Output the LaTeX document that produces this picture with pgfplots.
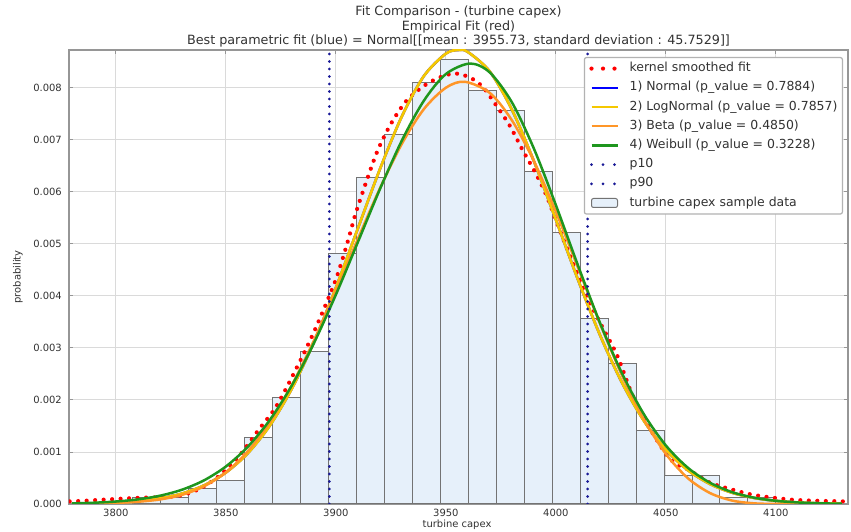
\documentclass[border=0pt]{standalone}
\usepackage{fontspec}
\setmainfont{DejaVu Sans}
\usepackage{pgfplots}
\pgfplotsset{compat=1.18}
\definecolor{histfill}{RGB}{230,240,250}
\definecolor{histedge}{RGB}{115,115,115}
\definecolor{nblue}{RGB}{0,0,255}
\definecolor{lnyellow}{RGB}{245,200,0}
\definecolor{betaorange}{RGB}{255,150,40}
\definecolor{wgreen}{RGB}{30,150,30}
\definecolor{pnavy}{RGB}{25,25,150}
\definecolor{kred}{RGB}{255,0,0}
\definecolor{gridgray}{RGB}{218,218,218}
\definecolor{framegray}{RGB}{150,150,150}
\definecolor{txt}{RGB}{50,50,50}
\pgfplotsset{
  leglinestyle/.style={legend image code/.code={\draw[##1] (0bp,0bp) -- (26bp,0bp);}},
  legrectstyle/.style={legend image code/.code={\draw[##1] (0bp,-4.5bp) rectangle (26bp,4.5bp);}},
}
\begin{document}
\begin{tikzpicture}
\useasboundingbox (-69bp,-28bp) rectangle (782bp,504bp);
\begin{axis}[
  at={(0,0)}, anchor=south west,
  width=779bp, height=454bp, scale only axis,
  xmin=3778.7, xmax=4132.8, ymin=0, ymax=0.00872,
  xtick={3800,3850,3900,3950,4000,4050,4100},
  ytick={0,0.001,0.002,0.003,0.004,0.005,0.006,0.007,0.008},
  scaled y ticks=false,
  /pgf/number format/assume math mode=true,
  xticklabel style={/pgf/number format/1000 sep={}, anchor=base, yshift=-12bp},
  yticklabel style={/pgf/number format/fixed, /pgf/number format/fixed zerofill, /pgf/number format/precision=3, anchor=east, inner sep=0pt, xshift=-7bp},
  ticklabel style={font=\fontsize{10}{12}\selectfont, text=txt},
  grid=major,
  major grid style={gridgray, line width=0.8bp},
  axis line style={framegray, line width=1.5bp},
  tick align=inside, major tick length=4bp, tick style={framegray, line width=0.8bp},
  legend style={at={(1,1)}, anchor=north east, xshift=-5bp, yshift=-7bp,
    draw=gray!60, line width=1.2bp, rounded corners=2bp, fill=white,
    inner xsep=5bp, inner ysep=5bp, row sep=7.2bp, /tikz/column sep=10bp,
    font=\fontsize{12.5}{15}\selectfont, text=txt,
    nodes={inner sep=0pt, text height=9.2bp, text depth=2.8bp}},
  legend cell align=left,
]
% legend images
\addlegendimage{leglinestyle, kred, line width=4.2bp, line cap=round, dash pattern=on 0bp off 11.5bp}
\addlegendentry{kernel smoothed fit}
\addlegendimage{leglinestyle, nblue, line width=2.5bp}
\addlegendentry{1) Normal (p\_value = 0.7884)}
\addlegendimage{leglinestyle, lnyellow, line width=2.5bp}
\addlegendentry{2) LogNormal (p\_value = 0.7857)}
\addlegendimage{leglinestyle, betaorange, line width=2.5bp}
\addlegendentry{3) Beta (p\_value = 0.4850)}
\addlegendimage{leglinestyle, wgreen, line width=2.5bp}
\addlegendentry{4) Weibull (p\_value = 0.3228)}
\addlegendimage{leglinestyle, pnavy, line width=3bp, line cap=round, dash pattern=on 0bp off 11.5bp}
\addlegendentry{p10}
\addlegendimage{leglinestyle, pnavy, line width=3bp, line cap=round, dash pattern=on 0bp off 11.5bp}
\addlegendentry{p90}
\addlegendimage{legrectstyle, fill=histfill, draw=histedge, line width=1bp}
\addlegendentry{turbine capex sample data}

% histogram
\addplot[ybar interval, fill=histfill, draw=histedge, line width=1bp, forget plot] coordinates {
(3807.70,0.00013)(3820.41,0.00013)(3833.12,0.00029)(3845.83,0.00045)(3858.54,0.00128)
(3871.25,0.00205)(3883.96,0.00293)(3896.67,0.00482)(3909.38,0.00628)(3922.09,0.00709)
(3934.80,0.00809)(3947.51,0.00854)(3960.22,0.00795)(3972.93,0.00755)(3985.64,0.00639)
(3998.35,0.00521)(4011.06,0.00357)(4023.77,0.00270)(4036.48,0.00142)(4049.19,0.00054)
(4061.90,0.00054)(4074.61,0.00013)(4087.32,0.00013)(4100.03,0)};

% kernel smoothed fit
\addplot[kred, line width=4.2bp, line cap=round, dash pattern=on 0bp off 8.5bp, smooth, forget plot] coordinates {
(3779,0.00005)(3785,0.00006)(3793,0.00008)(3802,0.00010)(3811,0.00012)(3820,0.00013)
(3829,0.00016)(3838,0.00029)(3847,0.00054)(3856,0.00092)(3865,0.00143)(3873,0.00188)
(3882,0.00260)(3890,0.00330)(3899,0.00420)(3903,0.00470)(3906,0.00513)(3909,0.00558)
(3914,0.00621)(3919,0.00679)(3925,0.00730)(3932,0.00774)(3940,0.00803)(3947,0.00819)
(3954,0.00827)(3961,0.00819)(3967,0.00800)(3973,0.00765)(3979,0.00727)(3985,0.00679)
(3991,0.00634)(3996,0.00590)(4000,0.00545)(4006,0.00481)(4015,0.00392)(4021,0.00341)
(4028,0.00284)(4035,0.00207)(4043,0.00143)(4052,0.00086)(4061,0.00064)(4070,0.00041)
(4079,0.00029)(4088,0.00019)(4097,0.00013)(4108,0.00008)(4120,0.00006)(4131,0.00005)};

% 1) Normal
\addplot[nblue, line width=2.5bp, smooth, forget plot] coordinates {
(3780,0.0000055)(3790,0.0000123)(3800,0.0000266)(3810,0.0000546)(3820,0.0001070)
(3830,0.0001998)(3840,0.0003558)(3850,0.0006038)(3860,0.0009768)(3870,0.0015068)
(3880,0.0022160)(3890,0.0031070)(3900,0.0041523)(3910,0.0052913)(3920,0.0064276)
(3930,0.0074443)(3940,0.0082192)(3950,0.0086515)(3955.73,0.0087196)(3960,0.0086817)
(3970,0.0083056)(3980,0.0075752)(3990,0.0065867)(4000,0.0054600)(4010,0.0043150)
(4020,0.0032508)(4030,0.0023351)(4040,0.0015990)(4050,0.0010437)(4060,0.0006495)
(4070,0.0003855)(4080,0.0002181)(4090,0.0001176)(4100,0.0000605)(4110,0.0000296)
(4120,0.0000138)(4130,0.0000062)};

% 2) LogNormal
\addplot[lnyellow, line width=2.7bp, smooth, forget plot] coordinates {
(3780,0.0000056)(3790,0.0000124)(3800,0.0000267)(3810,0.0000546)(3820,0.0001069)
(3830,0.0001995)(3840,0.0003553)(3850,0.0006031)(3860,0.0009760)(3870,0.0015062)
(3880,0.0022158)(3890,0.0031073)(3900,0.0041530)(3910,0.0052921)(3920,0.0064281)
(3930,0.0074443)(3940,0.0082186)(3950,0.0086505)(3955.73,0.0087190)(3960,0.0086812)
(3970,0.0083058)(3980,0.0075762)(3990,0.0065883)(4000,0.0054617)(4010,0.0043164)
(4020,0.0032516)(4030,0.0023353)(4040,0.0015987)(4050,0.0010431)(4060,0.0006489)
(4070,0.0003850)(4080,0.0002178)(4090,0.0001175)(4100,0.0000605)(4110,0.0000297)
(4120,0.0000139)(4130,0.0000063)};

% 3) Beta
\addplot[betaorange, line width=2.5bp, smooth, forget plot] coordinates {
(3780,0.0000056)(3790,0.0000115)(3800,0.0000220)(3810,0.0000436)(3820,0.0000870)
(3830,0.0001752)(3840,0.0003379)(3850,0.0006074)(3860,0.0010119)(3870,0.0015699)
(3880,0.0022839)(3890,0.0031371)(3900,0.0040925)(3910,0.0050910)(3920,0.0060602)
(3930,0.0069176)(3940,0.0075843)(3950,0.0079950)(3958.6,0.0081100)(3970,0.0078950)
(3980,0.0073720)(3990,0.0065880)(4000,0.0056170)(4010,0.0045480)(4020,0.0034730)
(4030,0.0024770)(4040,0.0016260)(4050,0.0009620)(4060,0.0004960)(4070,0.0002120)
(4080,0.0000670)(4090,0.0000130)(4100,0.0000010)(4110,0)(4120,0)(4130,0)};

% 4) Weibull
\addplot[wgreen, line width=2.5bp, smooth, forget plot] coordinates {
(3780,0.0000121)(3790,0.0000244)(3800,0.0000474)(3810,0.0000885)(3820,0.0001587)
(3830,0.0002734)(3840,0.0004526)(3850,0.0007199)(3860,0.0010998)(3870,0.0016148)
(3880,0.0022775)(3890,0.0030870)(3900,0.0040193)(3910,0.0050289)(3920,0.0060443)
(3930,0.0069807)(3940,0.0077458)(3950,0.0082577)(3961,0.0084600)(3970,0.0082872)
(3980,0.0077167)(3990,0.0068283)(4000,0.0057421)(4010,0.0045887)(4020,0.0034850)
(4030,0.0025151)(4040,0.0017252)(4050,0.0011243)(4060,0.0006964)(4070,0.0004100)
(4080,0.0002293)(4090,0.0001219)(4100,0.0000616)(4110,0.0000296)(4120,0.0000135)
(4130,0.0000058)};

% p10 / p90
\addplot[pnavy, line width=3bp, line cap=round, dash pattern=on 0bp off 7.5bp, forget plot] coordinates {(3897.1,0) (3897.1,0.00872)};
\addplot[pnavy, line width=3bp, line cap=round, dash pattern=on 0bp off 7.5bp, forget plot] coordinates {(4014.4,0) (4014.4,0.00872)};
\end{axis}
% titles and labels
\node[anchor=base, font=\fontsize{12.8}{15}\selectfont, text=txt] at (389.5bp,488bp) {Fit Comparison - (turbine capex)};
\node[anchor=base, font=\fontsize{12.8}{15}\selectfont, text=txt] at (389.5bp,473.5bp) {Empirical Fit (red)};
\node[anchor=base, font=\fontsize{12.8}{15}\selectfont, text=txt] at (389.5bp,459bp) {Best parametric fit (blue) = Normal[[mean : 3955.73, standard deviation : 45.7529]]};
\node[anchor=base, font=\fontsize{10}{12}\selectfont, text=txt] at (388bp,-23bp) {turbine capex};
\node[rotate=90, font=\fontsize{10}{12}\selectfont, text=txt] at (-51bp,227bp) {probability};
\end{tikzpicture}
\end{document}
